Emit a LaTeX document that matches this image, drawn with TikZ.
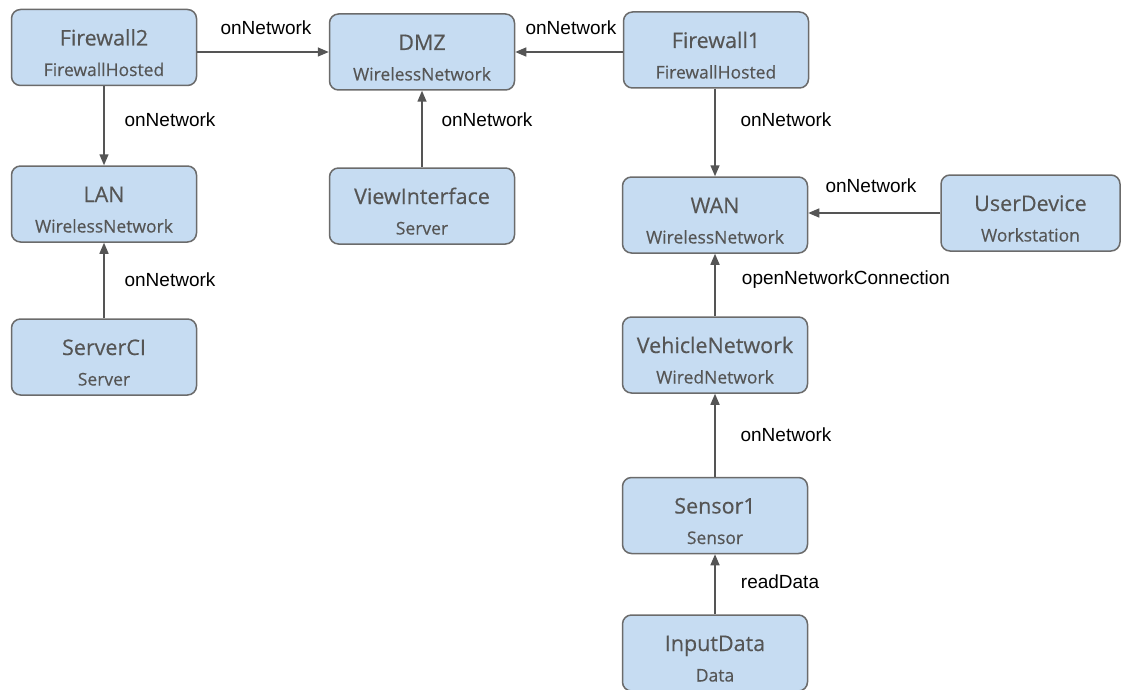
\documentclass[tikz,border=0pt]{standalone}
\usepackage{fontspec}
\setmainfont{Liberation Sans}
\newfontfamily\boxfont[FakeBold=0.35]{Open Sans}
\usetikzlibrary{arrows.meta}

\definecolor{boxfill}{HTML}{C6DCF2}
\definecolor{boxline}{HTML}{6B6B6B}
\definecolor{boxtext}{HTML}{555555}
\definecolor{edgecol}{HTML}{555555}

\tikzset{
  devnode/.style={draw=boxline, fill=boxfill, line width=1.5pt, rounded corners=9pt,
    minimum width=185pt, minimum height=76pt, inner sep=0pt},
  devtitle/.style={anchor=base, inner sep=0pt, text=boxtext,
    font=\boxfont\fontsize{21.5}{26}\selectfont},
  devsub/.style={anchor=base, inner sep=0pt, text=boxtext,
    font=\boxfont\fontsize{17.5}{21}\selectfont},
  lbl/.style={inner sep=0pt, text=black, font=\fontsize{19}{23}\selectfont},
  rel/.style={draw=edgecol, line width=1.5pt, -{Triangle[length=11pt,width=9pt]}},
}

% box with a name, a title line and a type line
\newcommand\devbox[6][]{%
  \node[devnode,#1] (#2) at (#3,#4) {};
  \node[devtitle] (#2-t) at (#3,{#4-2}) {#5};
  \node[devsub] (#2-s) at (#3,{#4+28.5}) {#6};
}

\begin{document}
\begin{tikzpicture}[x=1pt,y=-1pt]
  \useasboundingbox (0,0) rectangle (1121,690);

  \devbox{fw2}{104}{47.5}{Firewall2}{FirewallHosted}
  \devbox{dmz}{422}{52}{DMZ}{WirelessNetwork}
  \devbox{fw1}{716}{50}{Firewall1}{FirewallHosted}
  \devbox{lan}{104}{204}{LAN}{WirelessNetwork}
  \devbox{vi}{422}{206}{ViewInterface}{Server}
  \devbox{wan}{715}{215}{WAN}{WirelessNetwork}
  \devbox[minimum width=179pt]{ud}{1030.5}{213}{UserDevice}{Workstation}
  \devbox{srv}{104}{357}{ServerCI}{Server}
  \devbox{vn}{715}{355}{VehicleNetwork}{WiredNetwork}
  \devbox{sen}{715}{515.5}{Sensor1}{Sensor}
  \devbox{inp}{715}{653}{InputData}{Data}

  % relations
  \draw[rel] (fw2.east |- dmz.west) -- (dmz.west);
  \draw[rel] (fw1.west |- dmz.east) -- (dmz.east);
  \draw[rel] (fw2) -- (lan);
  \draw[rel] (vi) -- (dmz);
  \draw[rel] (fw1.south -| wan.north) -- (wan.north);
  \draw[rel] (ud.west) -- (ud.west -| wan.east);
  \draw[rel] (srv) -- (lan);
  \draw[rel] (vn) -- (wan);
  \draw[rel] (sen) -- (vn);
  \draw[rel] (inp) -- (sen);

  % relation names
  \node[lbl] (l1) at (266,28) {onNetwork};
  \node[lbl] (l2) at (571,28) {onNetwork};
  \node[lbl] (l3) at (170,120) {onNetwork};
  \node[lbl] (l4) at (487,120) {onNetwork};
  \node[lbl] (l5) at (786,120) {onNetwork};
  \node[lbl] (l6) at (871,186) {onNetwork};
  \node[lbl] (l7) at (170,280) {onNetwork};
  \node[lbl] (l8) at (846,280) {openNetworkConnection};
  \node[lbl] (l9) at (786,435) {onNetwork};
  \node[lbl] (l10) at (780,582) {readData};
\end{tikzpicture}
\end{document}
